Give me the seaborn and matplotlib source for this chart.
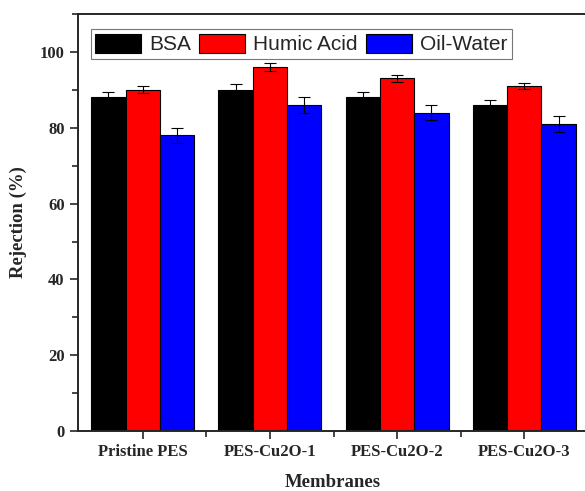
import matplotlib
matplotlib.use("Agg")
import matplotlib.pyplot as plt
import seaborn as sns
import pandas as pd
import numpy as np
from matplotlib.ticker import MultipleLocator

membranes = ["Pristine PES", "PES-Cu2O-1", "PES-Cu2O-2", "PES-Cu2O-3"]
series = ["BSA", "Humic Acid", "Oil-Water"]
bsa = [88, 90, 88, 86]
humic = [90, 96, 93, 91]
oil = [78, 86, 84, 81]
bsa_err = [1.3, 1.5, 1.4, 1.3]
humic_err = [0.9, 1.0, 1.0, 0.9]
oil_err = [1.9, 2.0, 2.0, 2.0]
colors = ["#000000", "#FF0000", "#0000FF"]

rows = []
for s, vals in zip(series, [bsa, humic, oil]):
    for m, v in zip(membranes, vals):
        rows.append({"Membrane": m, "Series": s, "Rejection": v})
df = pd.DataFrame(rows)
errs = [bsa_err, humic_err, oil_err]

sns.set_style("ticks")
fig = plt.figure(figsize=(5.85, 4.91), dpi=100)
ax = fig.add_axes([0.133, 0.122, 0.872, 0.8495])
sns.barplot(data=df, x="Membrane", y="Rejection", hue="Series", order=membranes,
            hue_order=series, palette=colors, width=0.81, edgecolor="black",
            linewidth=0.8, errorbar=None, ax=ax, saturation=1)

for cont, e in zip(ax.containers, errs):
    xs = [p.get_x() + p.get_width() / 2 for p in cont.patches]
    ys = [p.get_height() for p in cont.patches]
    ax.errorbar(xs, ys, yerr=e, fmt="none", ecolor="black", elinewidth=0.8,
                capsize=4, capthick=0.8)

ax.set_ylim(0, 110)
ax.set_xlim(-0.51, 3.5)
ax.yaxis.set_major_locator(MultipleLocator(20))
ax.yaxis.set_minor_locator(MultipleLocator(10))
ax.set_xticks(range(4))
ax.set_xticks([0.5, 1.5, 2.5], minor=True)
ax.tick_params(axis="both", which="major", direction="out", length=6, width=1.2,
               labelsize=12)
ax.tick_params(axis="both", which="minor", direction="out", length=4, width=1.2)
for lab in ax.get_xticklabels() + ax.get_yticklabels():
    lab.set_fontfamily("Liberation Serif")
    lab.set_fontweight("bold")
ax.set_xlabel("Membranes", fontfamily="Liberation Serif", fontweight="bold",
              fontsize=13.5, labelpad=10)
ax.set_ylabel("Rejection (%)", fontfamily="Liberation Serif", fontweight="bold",
              fontsize=13.5, labelpad=9)
for sp in ax.spines.values():
    sp.set_linewidth(1.4)

leg = ax.legend(loc="upper left", bbox_to_anchor=(0.025, 0.963), ncol=3,
                prop={"family": "Liberation Sans", "size": 15},
                frameon=True, fancybox=False, edgecolor="#555555",
                handlelength=2.2, handleheight=1.05, columnspacing=0.4,
                handletextpad=0.4, borderpad=0.2, borderaxespad=0)
leg.get_frame().set_linewidth(0.8)

fig.savefig("out.png", dpi=100)
